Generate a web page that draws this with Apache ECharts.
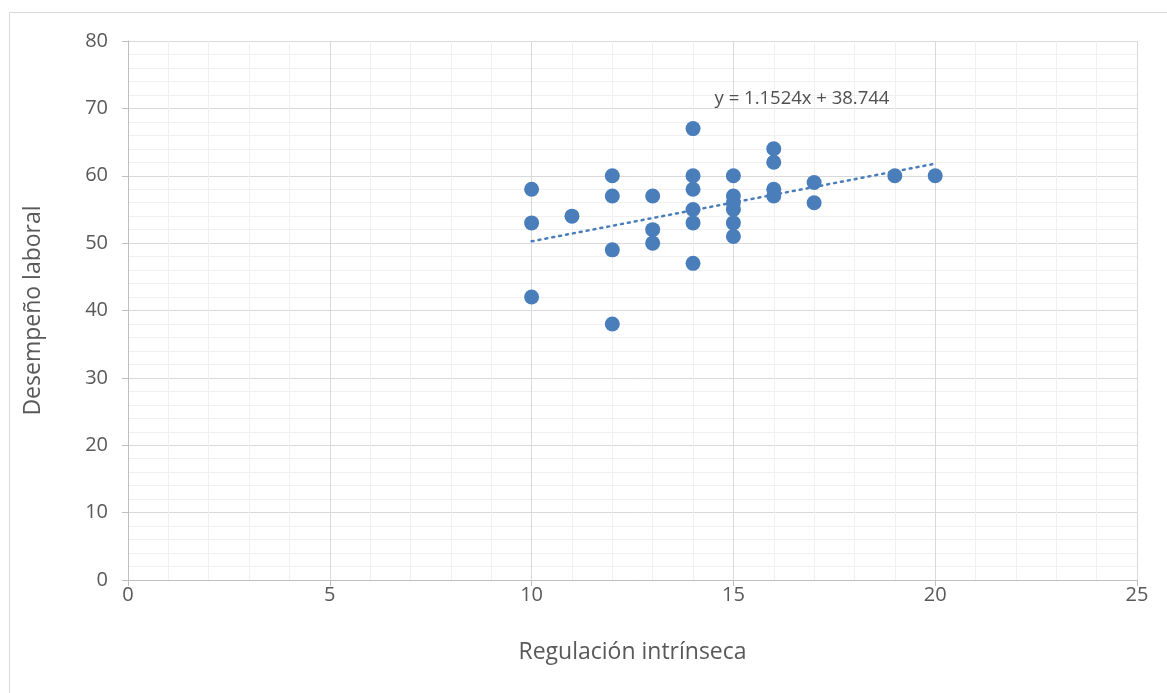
<!DOCTYPE html>
<html><head><meta charset="utf-8">
<script src="https://cdn.jsdelivr.net/npm/echarts@6/dist/echarts.min.js"></script>
<style>html,body{margin:0;padding:0;background:#fff}#c{width:1167px;height:693px}</style>
</head><body><div id="c"></div>
<script>
const xValues = [10,10,10,11,12,12,12,12,13,13,13,14,14,14,14,14,14,15,15,15,15,15,15,16,16,16,16,17,17,19,20];
const yValues = [58,53,42,54,60,57,49,38,57,52,50,67,60,58,55,53,47,60,57,56,55,53,51,64,62,58,57,59,56,60,60];
const trendX = [10, 20];
const trendY = [50.268, 61.792];
const trendLabel = 'y = 1.1524x + 38.744';
const trendLabelAt = [16.7, 71.5];
const xTicks = [0,5,10,15,20,25];
const yTicks = [0,10,20,30,40,50,60,70,80];

const points = xValues.map((x,i)=>[x,yValues[i]]);
const trend = trendX.map((x,i)=>[x,trendY[i]]);
const blue = '#4A7EBB';
const txt = '#595959';
const chart = echarts.init(document.getElementById('c'));
chart.setOption({
  animation:false,
  textStyle:{fontFamily:'Open Sans, Noto Sans, sans-serif'},
  graphic:[{type:'rect',shape:{x:9.5,y:12.5,width:1170,height:700},style:{fill:'none',stroke:'#d9d9d9',lineWidth:1},silent:true}],
  grid:{left:128,right:30,top:41,bottom:113},
  xAxis:{type:'value',min:xTicks[0],max:xTicks[xTicks.length-1],interval:5,
    name:'Regulación intrínseca',nameLocation:'middle',nameGap:61,
    nameTextStyle:{color:txt,fontSize:23},
    axisLine:{show:true,lineStyle:{color:'#bfbfbf'}},
    axisTick:{show:true,length:6,lineStyle:{color:'#bfbfbf'}},
    axisLabel:{color:txt,fontSize:20,margin:5},
    splitLine:{show:true,lineStyle:{color:'#d9d9d9'}},
    minorTick:{show:false,splitNumber:5},
    minorSplitLine:{show:true,lineStyle:{color:'#f0f0f0'}}},
  yAxis:{type:'value',min:yTicks[0],max:yTicks[yTicks.length-1],interval:10,
    name:'Desempeño laboral',nameLocation:'middle',nameGap:83,
    nameTextStyle:{color:txt,fontSize:23},
    axisLine:{show:true,lineStyle:{color:'#bfbfbf'}},
    axisTick:{show:true,length:6,lineStyle:{color:'#bfbfbf'}},
    axisLabel:{color:txt,fontSize:20,margin:20},
    splitLine:{show:true,lineStyle:{color:'#d9d9d9'}},
    minorTick:{show:false,splitNumber:5},
    minorSplitLine:{show:true,lineStyle:{color:'#f0f0f0'}}},
  series:[
    {type:'line',data:trend,symbol:'none',lineStyle:{color:blue,width:2.5,type:[2,5],cap:'round'},z:3},
    {type:'scatter',data:points,symbolSize:15,itemStyle:{color:blue,opacity:1},z:4},
    {type:'scatter',data:[trendLabelAt],symbolSize:1,itemStyle:{color:'#ffffff',opacity:1},z:5,silent:true,
      label:{show:true,position:'inside',formatter:trendLabel,color:'#505050',opacity:1,fontSize:18.5}}
  ]
});
</script></body></html>
